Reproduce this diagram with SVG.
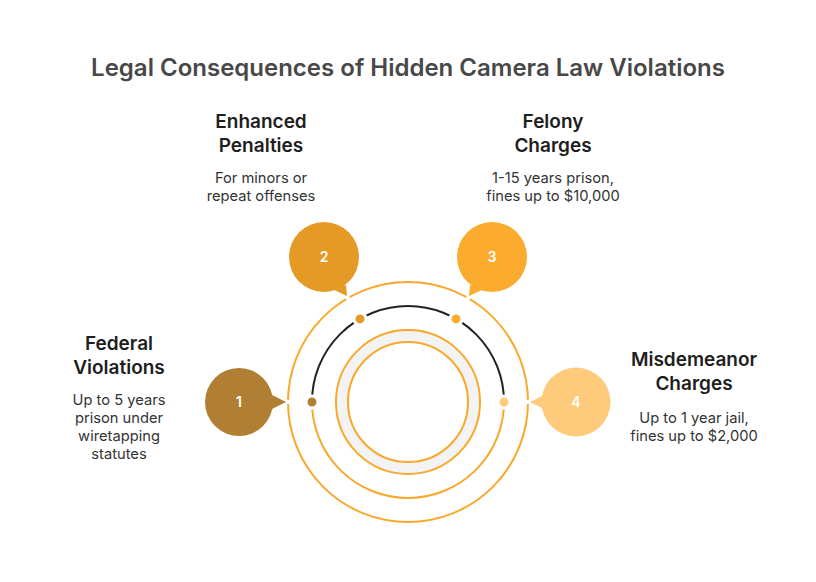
<svg xmlns="http://www.w3.org/2000/svg" width="816" height="582" viewBox="0 0 816 582">
<style>
.title{font-family:Inter,"Liberation Sans",sans-serif;font-size:24px;font-weight:600;fill:#484848;text-anchor:middle}
.head{font-family:Inter,"Liberation Sans",sans-serif;font-size:19px;font-weight:600;fill:#1e1e1e;text-anchor:middle}
.desc{font-family:Inter,"Liberation Sans",sans-serif;font-size:14.7px;font-weight:400;fill:#333;text-anchor:middle}
.num{font-family:Inter,"Liberation Sans",sans-serif;font-size:14px;font-weight:600;fill:#fff;text-anchor:middle}
.ring{fill:none;stroke:#f9a82a;stroke-width:2}
.gap{fill:#fff}
</style>
<rect width="816" height="582" fill="#fff"/>
<text class="title" x="408" y="76">Legal Consequences of Hidden Camera Law Violations</text>

<g id="rings">
<circle class="ring" cx="408" cy="402" r="120"/>
<circle cx="408" cy="402" r="66" fill="none" stroke="#f3f3f3" stroke-width="12"/>
<circle class="ring" cx="408" cy="402" r="72"/>
<circle class="ring" cx="408" cy="402" r="60"/>
<circle class="gap" cx="288" cy="402" r="2.2"/>
<circle class="gap" cx="528" cy="402" r="2.2"/>
<circle class="gap" cx="348" cy="298.1" r="2.2"/>
<circle class="gap" cx="468" cy="298.1" r="2.2"/>
</g>

<g id="connectors">
<path d="M312 402 A96 96 0 0 1 504 402" fill="none" stroke="#222" stroke-width="2"/>
<path d="M312 402 A96 96 0 0 0 504 402" class="ring"/>
</g>

<g id="dots" stroke="#fff" stroke-width="3">
<circle cx="312" cy="402" r="6" fill="#b07f33"/>
<circle cx="360" cy="318.9" r="6" fill="#e59a26"/>
<circle cx="456" cy="318.9" r="6" fill="#fbab2e"/>
<circle cx="504" cy="402" r="6" fill="#fdcb7b"/>
</g>

<g id="node1">
<circle cx="239" cy="402" r="34" fill="#b07f33"/>
<polygon points="270,394 286,402 270,410" fill="#b07f33"/>
<text class="num" x="239" y="407">1</text>
<text class="head" x="119" y="350">Federal</text>
<text class="head" x="119" y="374">Violations</text>
<text class="desc" x="119" y="405">Up to 5 years</text>
<text class="desc" x="119" y="423">prison under</text>
<text class="desc" x="119" y="441">wiretapping</text>
<text class="desc" x="119" y="459">statutes</text>
</g>

<g id="node2">
<circle cx="324" cy="257" r="35" fill="#e59a26"/>
<polygon points="332,289 347,296 346,285" fill="#e59a26"/>
<text class="num" x="324" y="262">2</text>
<text class="head" x="261" y="128">Enhanced</text>
<text class="head" x="261" y="152">Penalties</text>
<text class="desc" x="261" y="183">For minors or</text>
<text class="desc" x="261" y="201">repeat offenses</text>
</g>

<g id="node3">
<circle cx="492" cy="257" r="35" fill="#fbab2e"/>
<polygon points="470,285 469,296 484,289" fill="#fbab2e"/>
<text class="num" x="492" y="262">3</text>
<text class="head" x="553" y="128">Felony</text>
<text class="head" x="553" y="152">Charges</text>
<text class="desc" x="553" y="183">1-15 years prison,</text>
<text class="desc" x="553" y="201">fines up to $10,000</text>
</g>

<g id="node4">
<circle cx="576" cy="402" r="34.5" fill="#fdcb7b"/>
<polygon points="546,394 530,402 546,410" fill="#fdcb7b"/>
<text class="num" x="576" y="407">4</text>
<text class="head" x="694" y="366">Misdemeanor</text>
<text class="head" x="694" y="390">Charges</text>
<text class="desc" x="694" y="423">Up to 1 year jail,</text>
<text class="desc" x="694" y="441">fines up to $2,000</text>
</g>
</svg>
